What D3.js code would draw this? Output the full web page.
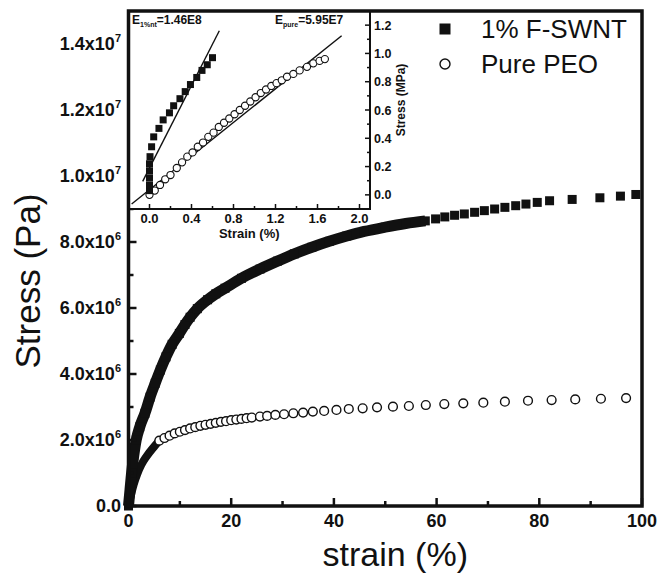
<!DOCTYPE html>
<html><head><meta charset="utf-8">
<script src="https://cdn.jsdelivr.net/npm/d3@7"></script>
<style>body{margin:0;background:#fff}svg{display:block}</style>
</head><body>
<svg id="c" width="666" height="579"></svg>
<script>
// ---------- main chart data (strain %, stress Pa) ----------
const swntBandStrain=[0,0.3,0.6,1.0,1.5,2.2,3.2,4.2,5.2,6.2,7.3,8.5,9.9,11.0,12.0,13.4,15.4,17.0,18.8,22.0,25.6,29.0,32.3,35.7,39.1,42.5,45.9,50.0,54.0,57.8];
const swntBandStress=[0,0.5e6,1.0e6,1.5e6,2.0e6,2.4e6,2.81e6,3.3e6,3.72e6,4.12e6,4.52e6,4.9e6,5.23e6,5.5e6,5.72e6,5.98e6,6.25e6,6.43e6,6.6e6,6.9e6,7.18e6,7.42e6,7.64e6,7.84e6,8.02e6,8.18e6,8.32e6,8.45e6,8.56e6,8.64e6];
const swntStrain=[59.8,61.6,63.5,65.4,67.4,69.3,71.3,73.3,75.4,77.4,79.6,82.0,86.4,91.8,95.8,98.8];
const swntStress=[8.70e6,8.76e6,8.81e6,8.85e6,8.9e6,8.95e6,9.0e6,9.05e6,9.1e6,9.15e6,9.2e6,9.25e6,9.29e6,9.34e6,9.39e6,9.44e6];
const peoBandStrain=[0,0.5,1.0,1.7,2.5,3.5,5.0,6.0];
const peoBandStress=[0,0.35e6,0.65e6,0.97e6,1.25e6,1.5e6,1.8e6,1.98e6];
const peoStrain=[6,7,8,9,10,11,12,13,14,15,16,17,18,19,20,21,22,23,24,25.6,27,28.6,30.3,32.1,34.0,35.9,38.1,40.5,42.9,45.6,48.4,51.5,54.6,57.9,61.5,65.2,69.1,73.3,77.8,82.4,87.0,92.0,96.9];
const peoStress=[1.98e6,2.06e6,2.13e6,2.2e6,2.25e6,2.3e6,2.35e6,2.39e6,2.43e6,2.46e6,2.49e6,2.52e6,2.55e6,2.57e6,2.6e6,2.62e6,2.64e6,2.66e6,2.68e6,2.71e6,2.73e6,2.76e6,2.78e6,2.81e6,2.83e6,2.86e6,2.88e6,2.91e6,2.94e6,2.96e6,2.99e6,3.01e6,3.03e6,3.06e6,3.09e6,3.11e6,3.13e6,3.16e6,3.19e6,3.21e6,3.23e6,3.25e6,3.27e6];
const xTicks=[0,20,40,60,80,100];
const xMinor=[10,30,50,70,90];
const yTicks=[0,2e6,4e6,6e6,8e6,1e7,1.2e7,1.4e7];
const yTickMant=["0.0","2.0","4.0","6.0","8.0","1.0","1.2","1.4"];
const yTickExp=["","6","6","6","6","7","7","7"];
const yMinor=[1e6,3e6,5e6,7e6,9e6,1.1e7,1.3e7];
const seriesNames=["1% F-SWNT","Pure PEO"];

// ---------- inset data (strain %, stress MPa) ----------
const inSwntStrain=[0,0,0,0,0,0.005,0.02,0.04,0.09,0.13,0.19,0.23,0.29,0.34,0.39,0.45,0.50,0.55,0.60];
const inSwntStress=[0.03,0.07,0.12,0.17,0.22,0.27,0.34,0.41,0.47,0.53,0.58,0.63,0.68,0.73,0.78,0.83,0.88,0.92,0.97];
const inPeoStrain=[0,0.05,0.10,0.15,0.20,0.26,0.31,0.36,0.41,0.46,0.51,0.56,0.61,0.66,0.71,0.76,0.81,0.86,0.91,0.96,1.01,1.06,1.11,1.16,1.21,1.26,1.31,1.37,1.43,1.50,1.56,1.62,1.67];
const inPeoStress=[0,0.03,0.07,0.11,0.14,0.19,0.23,0.27,0.30,0.34,0.37,0.41,0.44,0.48,0.51,0.54,0.57,0.60,0.63,0.66,0.69,0.72,0.745,0.77,0.79,0.81,0.835,0.855,0.88,0.905,0.93,0.947,0.96];
const fitSwntStrain=[-0.065,0.665];
const fitSwntStress=[0.095,1.16];
const fitPeoStrain=[-0.17,1.83];
const fitPeoStress=[-0.065,1.125];
const inXTicks=[0,0.4,0.8,1.2,1.6,2.0];
const inXMinor=[0.2,0.6,1.0,1.4,1.8];
const inYTicks=[0,0.2,0.4,0.6,0.8,1.0,1.2];
const inYMinor=[0.1,0.3,0.5,0.7,0.9,1.1];
const modSwnt={sub:"1%nt",val:"=1.46E8"};
const modPeo={sub:"pure",val:"=5.95E7"};

const svg=d3.select("#c");
const FONT="'Liberation Sans', Arial, Helvetica, sans-serif";
svg.append("rect").attr("width",666).attr("height",579).attr("fill","#fff");

const x=d3.scaleLinear().domain([0,100]).range([128.5,642]);
const y=d3.scaleLinear().domain([0,1.5e7]).range([506,11]);

const zip=(a,b)=>a.map((v,i)=>({s:v,p:b[i]}));
const swntBand=zip(swntBandStrain,swntBandStress);
const swntPts=zip(swntStrain,swntStress);
const peoBand=zip(peoBandStrain,peoBandStress);
const peoPts=zip(peoStrain,peoStress);

const line=d3.line().x(d=>x(d.s)).y(d=>y(d.p)).curve(d3.curveMonotoneX);
const g=svg.append("g");
// PEO band + circles
g.append("path").attr("d",line(peoBand)).attr("fill","none").attr("stroke","#111").attr("stroke-width",8).attr("stroke-linejoin","round");
g.selectAll("circle.peo").data(peoPts).join("circle").attr("class","peo")
 .attr("cx",d=>x(d.s)).attr("cy",d=>y(d.p)).attr("r",4.4)
 .attr("fill","#fff").attr("stroke","#111").attr("stroke-width",1.4);
// SWNT band + squares
g.append("path").attr("d",line(swntBand)).attr("fill","none").attr("stroke","#111").attr("stroke-width",11).attr("stroke-linejoin","round");
const sq=9;
g.selectAll("rect.sb").data(swntBand).join("rect").attr("class","sb")
 .attr("x",d=>x(d.s)-sq/2).attr("y",d=>y(d.p)-sq/2).attr("width",sq).attr("height",sq).attr("fill","#111");
g.selectAll("rect.sw").data(swntPts).join("rect").attr("class","sw")
 .attr("x",d=>x(d.s)-sq/2).attr("y",d=>y(d.p)-sq/2).attr("width",sq).attr("height",sq).attr("fill","#111");

// main axes ticks
const ax=svg.append("g").attr("stroke","#111").attr("stroke-width",2.5);
xTicks.forEach(t=>ax.append("line").attr("x1",x(t)).attr("x2",x(t)).attr("y1",y(0)).attr("y2",y(0)-8));
xMinor.forEach(t=>ax.append("line").attr("x1",x(t)).attr("x2",x(t)).attr("y1",y(0)).attr("y2",y(0)-5));
yTicks.forEach(t=>ax.append("line").attr("x1",x(0)).attr("x2",x(0)+8).attr("y1",y(t)).attr("y2",y(t)));
yMinor.forEach(t=>ax.append("line").attr("x1",x(0)).attr("x2",x(0)+5).attr("y1",y(t)).attr("y2",y(t)));

// tick labels
svg.append("g").selectAll("text").data(xTicks).join("text")
 .attr("x",d=>x(d)).attr("y",527).attr("text-anchor","middle")
 .attr("font-family",FONT).attr("font-weight","bold").attr("font-size",18).attr("fill","#111")
 .text(d=>d);
const yl=svg.append("g");
yTicks.forEach((t,i)=>{
  const tx=yl.append("text").attr("x",121).attr("y",y(t)+6).attr("text-anchor","end")
   .attr("font-family",FONT).attr("font-weight","bold").attr("font-size",18).attr("fill","#111");
  tx.append("tspan").text(yTickMant[i]);
  if(yTickExp[i]){
    tx.append("tspan").text("x10");
    tx.append("tspan").attr("font-size",11).attr("dy",-8).text(yTickExp[i]);
  }
});

// axis titles
svg.append("text").attr("x",(x(0)+x(100))/2+10).attr("y",566).attr("text-anchor","middle")
 .attr("font-family",FONT).attr("font-size",34).attr("fill","#111").text("strain (%)");
svg.append("text").attr("transform","translate(40,281) rotate(-90)").attr("text-anchor","middle")
 .attr("font-family",FONT).attr("font-size",35).attr("fill","#111").text("Stress (Pa)");

// ---------- inset ----------
const ix=d3.scaleLinear().domain([-0.2,2.1]).range([128.5,370]);
const iy=d3.scaleLinear().domain([-0.1,1.3]).range([209,11]);
svg.append("rect").attr("x",ix(-0.2)).attr("y",iy(1.3)).attr("width",ix(2.1)-ix(-0.2)).attr("height",iy(-0.1)-iy(1.3))
 .attr("fill","#fff").attr("stroke","#111").attr("stroke-width",2);
const ig=svg.append("g");
const iline=d3.line().x(d=>ix(d.s)).y(d=>iy(d.p));
ig.append("path").attr("d",iline(zip(fitPeoStrain,fitPeoStress))).attr("stroke","#111").attr("stroke-width",1.4).attr("fill","none");
ig.selectAll("circle").data(zip(inPeoStrain,inPeoStress)).join("circle")
 .attr("cx",d=>ix(d.s)).attr("cy",d=>iy(d.p)).attr("r",3.6)
 .attr("fill","#fff").attr("stroke","#111").attr("stroke-width",1.1);
ig.append("path").attr("d",iline(zip(fitSwntStrain,fitSwntStress))).attr("stroke","#111").attr("stroke-width",1.4).attr("fill","none");
const isq=7;
ig.selectAll("rect").data(zip(inSwntStrain,inSwntStress)).join("rect")
 .attr("x",d=>ix(d.s)-isq/2).attr("y",d=>iy(d.p)-isq/2).attr("width",isq).attr("height",isq).attr("fill","#111");

const iax=svg.append("g").attr("stroke","#111").attr("stroke-width",1.5);
inXTicks.forEach(t=>iax.append("line").attr("x1",ix(t)).attr("x2",ix(t)).attr("y1",iy(-0.1)).attr("y2",iy(-0.1)-5));
inXMinor.forEach(t=>iax.append("line").attr("x1",ix(t)).attr("x2",ix(t)).attr("y1",iy(-0.1)).attr("y2",iy(-0.1)-3));
inYTicks.forEach(t=>iax.append("line").attr("x1",ix(2.1)).attr("x2",ix(2.1)-5).attr("y1",iy(t)).attr("y2",iy(t)));
inYMinor.forEach(t=>iax.append("line").attr("x1",ix(2.1)).attr("x2",ix(2.1)-3).attr("y1",iy(t)).attr("y2",iy(t)));

svg.append("g").selectAll("text").data(inXTicks).join("text")
 .attr("x",d=>ix(d)).attr("y",223).attr("text-anchor","middle")
 .attr("font-family",FONT).attr("font-weight","bold").attr("font-size",13).attr("fill","#111")
 .text(d=>d.toFixed(1));
svg.append("g").selectAll("text").data(inYTicks).join("text")
 .attr("x",ix(2.1)+4).attr("y",d=>iy(d)+4.5).attr("text-anchor","start")
 .attr("font-family",FONT).attr("font-weight","bold").attr("font-size",12.5).attr("fill","#111")
 .text(d=>d.toFixed(1));
svg.append("text").attr("x",(ix(-0.2)+ix(2.1))/2).attr("y",238).attr("text-anchor","middle")
 .attr("font-family",FONT).attr("font-weight","bold").attr("font-size",13).attr("fill","#111").text("Strain (%)");
svg.append("text").attr("transform","translate(405,100) rotate(-90)").attr("text-anchor","middle")
 .attr("font-family",FONT).attr("font-weight","bold").attr("font-size",12).attr("fill","#111").text("Stress (MPa)");

function modText(xp,m){
  const t=svg.append("text").attr("x",xp).attr("y",24).attr("font-family",FONT).attr("font-weight","bold").attr("font-size",12).attr("fill","#111");
  t.append("tspan").text("E");
  t.append("tspan").attr("font-size",7).attr("dy",3).text(m.sub);
  t.append("tspan").attr("dy",-3).text(m.val);
}
modText(132,modSwnt);
modText(275,modPeo);

// main frame
svg.append("rect").attr("x",x(0)).attr("y",y(1.5e7)).attr("width",x(100)-x(0)).attr("height",y(0)-y(1.5e7))
 .attr("fill","none").attr("stroke","#111").attr("stroke-width",3.5);

// legend
const lg=svg.append("g");
lg.append("rect").attr("x",445-5.5).attr("y",29-5.5).attr("width",11).attr("height",11).attr("fill","#111");
lg.append("circle").attr("cx",445).attr("cy",64).attr("r",5).attr("fill","#fff").attr("stroke","#111").attr("stroke-width",1.4);
lg.selectAll("text").data(seriesNames).join("text")
 .attr("x",481).attr("y",(d,i)=>38+i*35)
 .attr("font-family",FONT).attr("font-size",26).attr("fill","#111").text(d=>d);
</script>
</body></html>
